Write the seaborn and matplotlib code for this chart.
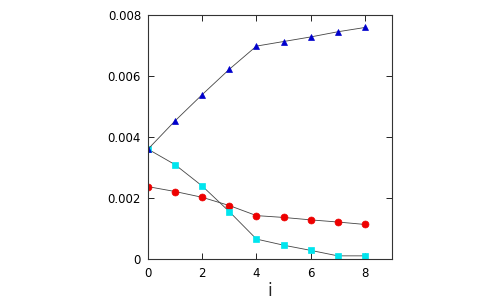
import numpy as np
import pandas as pd
import seaborn as sns
import matplotlib
matplotlib.use("Agg")
import matplotlib.pyplot as plt
from matplotlib.ticker import FuncFormatter, MultipleLocator

# data
i_vals = [0, 1, 2, 3, 4, 5, 6, 7, 8]
blue_tri = [0.00360, 0.00453, 0.00539, 0.00622, 0.00698, 0.00713, 0.00728, 0.00745, 0.00759]
red_circ = [0.00237, 0.00221, 0.00202, 0.00175, 0.00142, 0.00136, 0.00128, 0.00121, 0.00113]
cyan_sq = [0.00360, 0.00309, 0.00239, 0.00155, 0.00065, 0.00045, 0.00028, 0.00010, 0.00010]

sns.set_style("ticks")
plt.rcParams['font.family'] = ['DejaVu Sans']

fig = plt.figure(figsize=(5, 3), dpi=100)
ax = fig.add_axes([0.296, 0.137, 0.488, 0.813])

# series: (values, marker, colour)
series = [
    (red_circ, 'o', '#ee0000'),
    (cyan_sq, 's', '#00e5ee'),
    (blue_tri, '^', '#0000cc'),
]
for vals, mk, col in series:
    df = pd.DataFrame({'i': i_vals, 'v': vals})
    sns.lineplot(data=df, x='i', y='v', ax=ax, color='#444444', linewidth=0.6,
                 marker=mk, markersize=5, markerfacecolor=col,
                 markeredgecolor=col, markeredgewidth=0.5)

ax.set_xlim(0, 9)
ax.set_ylim(0, 0.008)
ax.xaxis.set_major_locator(MultipleLocator(2))
ax.yaxis.set_major_locator(MultipleLocator(0.002))
ax.yaxis.set_major_formatter(FuncFormatter(lambda v, p: '0' if abs(v) < 1e-12 else f'{v:.3f}'))
ax.xaxis.set_major_formatter(FuncFormatter(lambda v, p: f'{v:g}'))
ax.tick_params(direction='in', top=True, right=True, length=4, width=0.6,
               labelsize=8.5, colors='black')
ax.tick_params(axis='x', pad=6)
ax.tick_params(axis='y', pad=5)
for s in ax.spines.values():
    s.set_linewidth(0.8)
    s.set_color('#333333')
ax.set_xlabel('i', fontsize=12, labelpad=1)
ax.set_ylabel('')

fig.savefig('out.png', dpi=100)
